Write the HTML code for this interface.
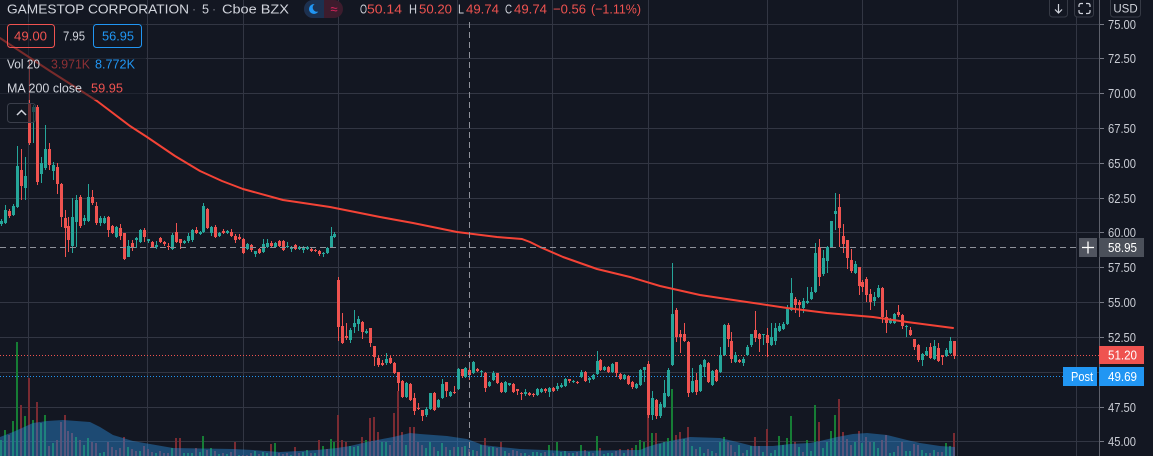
<!DOCTYPE html>
<html><head><meta charset="utf-8">
<style>
html,body{margin:0;padding:0;background:#131722;width:1153px;height:456px;overflow:hidden}
svg{display:block}
text{font-family:"Liberation Sans",Arial,sans-serif}
</style></head>
<body>
<svg id="s" width="1153" height="456" viewBox="0 0 1153 456" xmlns="http://www.w3.org/2000/svg">
<rect width="1153" height="456" fill="#131722"/>
<g stroke="#323643" stroke-width="1" shape-rendering="crispEdges">
<line x1="28.5" y1="0" x2="28.5" y2="456"/>
<line x1="147.5" y1="0" x2="147.5" y2="456"/>
<line x1="243.5" y1="0" x2="243.5" y2="456"/>
<line x1="338.5" y1="0" x2="338.5" y2="456"/>
<line x1="457.5" y1="0" x2="457.5" y2="456"/>
<line x1="552.5" y1="0" x2="552.5" y2="456"/>
<line x1="648.5" y1="0" x2="648.5" y2="456"/>
<line x1="767.5" y1="0" x2="767.5" y2="456"/>
<line x1="862.5" y1="0" x2="862.5" y2="456"/>
<line x1="957.5" y1="0" x2="957.5" y2="456"/>
<line x1="1076.5" y1="0" x2="1076.5" y2="456"/>
<line x1="0" y1="24.5" x2="1099" y2="24.5"/>
<line x1="0" y1="58.5" x2="1099" y2="58.5"/>
<line x1="0" y1="93.5" x2="1099" y2="93.5"/>
<line x1="0" y1="128.5" x2="1099" y2="128.5"/>
<line x1="0" y1="163.5" x2="1099" y2="163.5"/>
<line x1="0" y1="198.5" x2="1099" y2="198.5"/>
<line x1="0" y1="232.5" x2="1099" y2="232.5"/>
<line x1="0" y1="267.5" x2="1099" y2="267.5"/>
<line x1="0" y1="302.5" x2="1099" y2="302.5"/>
<line x1="0" y1="337.5" x2="1099" y2="337.5"/>
<line x1="0" y1="372.5" x2="1099" y2="372.5"/>
<line x1="0" y1="407.5" x2="1099" y2="407.5"/>
<line x1="0" y1="441.5" x2="1099" y2="441.5"/>
</g>
<g id="vol" shape-rendering="crispEdges"></g>
<path fill="rgba(43,138,214,0.45)" d="M0,437 L13,432 L33,423 L47,421 L63,420 L90,422 L100,427 L113,435 L133,441 L150,444 L173,448 L233,449 L253,450 L280,452 L317,450 L337,448 L350,446 L367,442 L393,437 L410,433 L420,434 L447,436 L467,439 L483,445 L500,447 L520,449 L567,451 L640,450 L647,447 L660,443 L680,439 L690,437 L720,438 L733,441 L753,446 L773,446 L790,444 L810,443 L820,441 L837,437 L853,434 L867,433 L887,435 L907,440 L920,443 L940,446 L955,447 L955,456 L0,456 Z"/>
<line x1="0" y1="355.5" x2="1099" y2="355.5" stroke="#ef5350" stroke-width="1" stroke-dasharray="1 2"/>
<line x1="0" y1="376.5" x2="1063" y2="376.5" stroke="#2196f3" stroke-width="1" stroke-dasharray="1 2"/>
<g id="cdl" shape-rendering="crispEdges"></g>
<polyline fill="none" stroke="#f44336" stroke-width="2" stroke-linejoin="round" stroke-linecap="round" points="0,38 50,71 97,101 130,126 147,137 175,156 200,171 222,181 243,189 283,200 310,204 330,207 350,211 380,217 413,223 457,232 497,237 522,239 530,242 540,247 563,257 597,269 630,277 660,286 700,295 740,301 787,308 827,313 873,317 907,322 953,328"/>
<!-- crosshair -->
<line x1="469.5" y1="22" x2="469.5" y2="456" stroke="#8f929b" stroke-width="1" stroke-dasharray="6 4"/>
<line x1="0" y1="247.5" x2="1079" y2="247.5" stroke="#8f929b" stroke-width="1" stroke-dasharray="6 4"/>

<!-- legend translucent background -->
<rect x="0" y="22" width="146" height="78" fill="rgba(19,23,34,0.55)"/>

<!-- header legend -->
<text x="7" y="13.5" font-size="13" fill="#d1d4dc" textLength="182" lengthAdjust="spacingAndGlyphs">GAMESTOP CORPORATION</text>
<text x="194" y="13.5" font-size="13" fill="#787b86" text-anchor="middle">·</text>
<text x="202" y="13.5" font-size="13" fill="#d1d4dc" textLength="7" lengthAdjust="spacingAndGlyphs">5</text>
<text x="214" y="13.5" font-size="13" fill="#787b86" text-anchor="middle">·</text>
<text x="222" y="13.5" font-size="13" fill="#d1d4dc" textLength="67" lengthAdjust="spacingAndGlyphs">Cboe BZX</text>
<rect x="304" y="0" width="39" height="18" rx="9" fill="#3d1c2d"/>
<path d="M324,0 H313 A9 9 0 0 0 313 18 H324 Z" fill="#1c3150"/>
<circle cx="314" cy="9" r="5" fill="#2196f3"/>
<circle cx="317" cy="7.5" r="4.3" fill="#1c3150"/>
<text x="334" y="13.5" font-size="13" fill="#e0245e" text-anchor="middle">≈</text>
<text x="360" y="13.5" font-size="13" fill="#d1d4dc" textLength="7" lengthAdjust="spacingAndGlyphs">O</text>
<text x="367" y="13.5" font-size="13" fill="#ef5350" textLength="35" lengthAdjust="spacingAndGlyphs">50.14</text>
<text x="409" y="13.5" font-size="13" fill="#d1d4dc" textLength="8" lengthAdjust="spacingAndGlyphs">H</text>
<text x="419" y="13.5" font-size="13" fill="#ef5350" textLength="33" lengthAdjust="spacingAndGlyphs">50.20</text>
<text x="458" y="13.5" font-size="13" fill="#d1d4dc" textLength="6" lengthAdjust="spacingAndGlyphs">L</text>
<text x="466" y="13.5" font-size="13" fill="#ef5350" textLength="33" lengthAdjust="spacingAndGlyphs">49.74</text>
<text x="505" y="13.5" font-size="13" fill="#d1d4dc" textLength="7" lengthAdjust="spacingAndGlyphs">C</text>
<text x="514" y="13.5" font-size="13" fill="#ef5350" textLength="33" lengthAdjust="spacingAndGlyphs">49.74</text>
<text x="553" y="13.5" font-size="13" fill="#ef5350" textLength="33" lengthAdjust="spacingAndGlyphs">−0.56</text>
<text x="591" y="13.5" font-size="13" fill="#ef5350" textLength="50" lengthAdjust="spacingAndGlyphs">(−1.11%)</text>

<rect x="7.5" y="24.5" width="47" height="23" rx="3" fill="none" stroke="#ef5350"/>
<text x="14" y="40.5" font-size="12.5" fill="#ef5350" textLength="33" lengthAdjust="spacingAndGlyphs">49.00</text>
<text x="63" y="40.5" font-size="12.5" fill="#d1d4dc" textLength="22" lengthAdjust="spacingAndGlyphs">7.95</text>
<rect x="93.5" y="24.5" width="48" height="23" rx="3" fill="none" stroke="#2196f3"/>
<text x="102" y="40.5" font-size="12.5" fill="#2196f3" textLength="32" lengthAdjust="spacingAndGlyphs">56.95</text>

<text x="7" y="68.5" font-size="12.5" fill="#d1d4dc" textLength="33" lengthAdjust="spacingAndGlyphs">Vol 20</text>
<text x="51" y="68.5" font-size="12.5" fill="#8e3035" textLength="39" lengthAdjust="spacingAndGlyphs">3.971K</text>
<text x="95" y="68.5" font-size="12.5" fill="#2196f3" textLength="40" lengthAdjust="spacingAndGlyphs">8.772K</text>
<text x="7" y="92.5" font-size="12.5" fill="#d1d4dc" textLength="75" lengthAdjust="spacingAndGlyphs">MA 200 close</text>
<text x="91" y="92.5" font-size="12.5" fill="#ef5350" textLength="32" lengthAdjust="spacingAndGlyphs">59.95</text>
<rect x="7.5" y="103.5" width="28" height="19" rx="3" fill="#131722" fill-opacity="0.6" stroke="#3a3e4a"/>
<polyline points="17,115 21.5,110.5 26,115" fill="none" stroke="#d1d4dc" stroke-width="1.5"/>

<!-- right axis -->
<line x1="1099.5" y1="0" x2="1099.5" y2="456" stroke="#5d606b" stroke-width="1" shape-rendering="crispEdges"/>
<g stroke="#787b86" stroke-width="1" shape-rendering="crispEdges">
<line x1="1100" y1="24.5" x2="1104" y2="24.5"/>
<line x1="1100" y1="58.5" x2="1104" y2="58.5"/>
<line x1="1100" y1="93.5" x2="1104" y2="93.5"/>
<line x1="1100" y1="128.5" x2="1104" y2="128.5"/>
<line x1="1100" y1="163.5" x2="1104" y2="163.5"/>
<line x1="1100" y1="198.5" x2="1104" y2="198.5"/>
<line x1="1100" y1="232.5" x2="1104" y2="232.5"/>
<line x1="1100" y1="267.5" x2="1104" y2="267.5"/>
<line x1="1100" y1="302.5" x2="1104" y2="302.5"/>
<line x1="1100" y1="337.5" x2="1104" y2="337.5"/>
<line x1="1100" y1="407.5" x2="1104" y2="407.5"/>
<line x1="1100" y1="441.5" x2="1104" y2="441.5"/>
</g>
<g font-size="12.5" fill="#c9ccd4">
<text x="1108" y="29" textLength="28" lengthAdjust="spacingAndGlyphs">75.00</text>
<text x="1108" y="63" textLength="28" lengthAdjust="spacingAndGlyphs">72.50</text>
<text x="1108" y="98" textLength="28" lengthAdjust="spacingAndGlyphs">70.00</text>
<text x="1108" y="133" textLength="28" lengthAdjust="spacingAndGlyphs">67.50</text>
<text x="1108" y="168" textLength="28" lengthAdjust="spacingAndGlyphs">65.00</text>
<text x="1108" y="203" textLength="28" lengthAdjust="spacingAndGlyphs">62.50</text>
<text x="1108" y="237" textLength="28" lengthAdjust="spacingAndGlyphs">60.00</text>
<text x="1108" y="272" textLength="28" lengthAdjust="spacingAndGlyphs">57.50</text>
<text x="1108" y="307" textLength="28" lengthAdjust="spacingAndGlyphs">55.00</text>
<text x="1108" y="342" textLength="28" lengthAdjust="spacingAndGlyphs">52.50</text>
<text x="1108" y="412" textLength="28" lengthAdjust="spacingAndGlyphs">47.50</text>
<text x="1108" y="446" textLength="28" lengthAdjust="spacingAndGlyphs">45.00</text>
</g>
<!-- crosshair labels -->
<rect x="1079" y="238" width="18" height="19" fill="#50545f"/>
<path d="M1088,241.5 V253.5 M1082,247.5 H1094" stroke="#ffffff" stroke-width="1.3"/>
<rect x="1099" y="238" width="45" height="19" fill="#4b505a"/>
<text x="1108" y="252" font-size="12.5" fill="#ffffff" textLength="29" lengthAdjust="spacingAndGlyphs">58.95</text>
<!-- last price -->
<rect x="1099" y="346" width="45" height="18" fill="#ef5350"/>
<text x="1108" y="359.5" font-size="12.5" fill="#ffffff" textLength="29" lengthAdjust="spacingAndGlyphs">51.20</text>
<rect x="1063" y="367" width="34" height="19" fill="#2196f3"/>
<text x="1071" y="381" font-size="12.5" fill="#ffffff" textLength="22" lengthAdjust="spacingAndGlyphs">Post</text>
<rect x="1099" y="367" width="45" height="19" fill="#2196f3"/>
<text x="1108" y="381" font-size="12.5" fill="#ffffff" textLength="29" lengthAdjust="spacingAndGlyphs">49.69</text>
<!-- top right buttons -->
<rect x="1049.5" y="-4" width="18" height="21" rx="3" fill="#131722" stroke="#363a45"/>
<path d="M1058.5,4 V13 M1055,9.5 L1058.5,13 L1062,9.5" fill="none" stroke="#d1d4dc" stroke-width="1.2"/>
<rect x="1074.5" y="-4" width="19" height="21" rx="3" fill="#131722" stroke="#363a45"/>
<path d="M1079,7 V5.5 Q1079,3.5 1081,3.5 H1083 M1086,3.5 H1088 Q1090,3.5 1090,5.5 V7 M1090,10 V11.5 Q1090,13.5 1088,13.5 H1086 M1083,13.5 H1081 Q1079,13.5 1079,11.5 V10" fill="none" stroke="#d1d4dc" stroke-width="1.2"/>
<rect x="1110.5" y="-4" width="30" height="21" rx="3" fill="#131722" stroke="#363a45"/>
<text x="1125.5" y="12.5" font-size="11.5" fill="#d1d4dc" text-anchor="middle">USD</text>
</svg>
<script>
(function(){
var S=3.97;
function cx(i){return Math.round(1+S*i);}
var C=[
[1,221,224,219,226],[1,210,223,205,224],[0,211,216,209,218],[1,206,215,204,216],[1,166,207,146,208],[0,170,186,149,200],[1,176,188,157,200],[0,103,143,60,145],[1,107,112,105,143],[0,107,182,105,185],
[1,163,174,157,183],[1,149,168,125,170],[0,149,165,143,170],[1,165,171,162,180],[0,167,184,163,194],[0,184,217,183,227],[0,218,228,210,257],[0,226,240,217,252],[1,217,246,198,253],[1,200,222,195,247],
[0,197,226,195,228],[1,218,221,215,225],[1,197,221,184,222],[0,197,203,190,205],[0,206,223,202,225],[1,218,223,216,226],[1,218,223,216,224],[0,217,230,216,237],[0,226,233,225,234],[1,227,237,226,238],
[0,228,236,224,240],[0,233,259,233,260],[1,246,257,240,257],[0,243,247,240,251],[1,238,240,237,248],[1,230,242,229,243],[0,230,237,228,242],[1,239,241,239,243],[0,242,247,241,248],[1,245,247,241,249],
[0,238,242,237,243],[0,242,244,241,246],[0,246,247,243,250],[1,235,249,233,250],[0,232,242,223,243],[0,239,243,239,249],[1,241,243,240,244],[1,236,241,233,243],[1,230,240,229,242],[0,230,233,227,234],
[1,232,234,231,235],[1,206,232,203,233],[0,209,228,208,229],[1,227,233,226,236],[0,227,237,225,238],[1,233,236,232,237],[0,231,233,229,234],[1,231,233,230,234],[0,232,236,229,237],[0,236,240,234,243],
[0,237,239,234,240],[0,239,253,238,254],[1,244,249,243,250],[0,245,250,244,252],[1,251,254,251,257],[0,249,253,248,254],[1,244,252,239,253],[1,243,247,239,248],[0,243,246,241,247],[1,243,247,242,248],
[0,241,246,240,247],[0,241,250,240,251],[1,246,247,242,248],[1,247,249,246,252],[0,245,249,244,250],[1,247,249,246,250],[1,248,250,246,253],[1,247,249,246,250],[0,249,251,248,252],[0,250,251,249,252],
[0,251,254,250,256],[1,253,254,252,257],[1,248,253,247,254],[1,236,247,227,248],[1,234,237,232,238],
[0,280,327,277,341],[0,326,343,313,344],[0,336,338,323,340],[1,330,340,328,343],[1,323,327,310,333],[1,319,324,316,331],[0,322,332,321,339],[1,331,333,329,334],[0,328,343,328,347],[0,346,357,346,366],
[0,358,365,356,367],[0,363,365,360,366],[1,359,363,353,365],[0,358,363,355,364],[0,363,373,362,374],[0,372,383,372,391],[0,381,397,380,398],[1,383,397,382,398],[0,384,400,383,401],[0,398,411,393,415],
[0,408,409,403,410],[0,410,416,410,421],[1,409,415,407,417],[1,393,409,393,410],[0,393,410,392,411],[1,400,407,399,408],[1,384,398,379,399],[0,382,391,382,397],[1,392,396,391,397],[0,392,393,386,394],
[1,369,389,368,390],[0,369,376,369,378],[1,368,377,367,378],[0,370,375,367,380],[1,362,373,361,374],[0,369,371,368,372],[1,371,372,370,377],[0,373,388,372,392],[1,382,386,381,387],[1,373,380,371,381],
[0,373,383,373,384],[0,383,392,382,393],[1,382,392,381,393],[1,383,385,383,386],[0,384,392,383,393],[0,389,391,389,395],[0,393,394,392,400],[1,392,394,389,396],[0,393,395,392,396],[0,394,395,393,397],
[1,389,395,388,396],[1,389,392,388,393],[0,389,391,388,393],[1,388,392,387,397],[0,388,391,387,392],[1,386,389,383,391],[1,385,387,383,388],[1,379,386,378,387],[0,379,381,379,383],[1,381,382,380,383],
[0,382,383,381,384],[1,372,377,370,378],[0,372,381,371,382],[1,378,380,377,383],[1,375,379,374,380],[1,361,374,351,375],[0,360,370,359,371],[1,367,370,366,371],[0,367,372,366,373],[1,364,372,363,373],
[0,362,373,362,377],[0,374,379,373,380],[1,375,379,374,380],[0,376,384,375,385],[0,382,387,381,389],[1,384,388,383,389],[1,370,385,369,386],[1,367,370,367,382],
[0,364,415,361,418],[1,398,415,391,420],[0,400,416,399,419],[1,404,416,402,418],[1,393,407,380,408],[1,370,396,368,397],[1,314,365,263,366],[0,310,337,308,342],[0,334,337,330,353],[0,334,341,323,342],
[0,342,393,341,397],[1,381,392,368,393],[0,380,392,373,395],[1,365,391,364,392],[1,360,367,359,377],[0,363,382,362,383],[1,371,385,370,386],[0,370,381,369,382],[1,355,372,347,373],[1,325,355,324,356],
[0,325,339,323,347],[0,341,359,332,363],[1,355,362,352,363],[0,360,362,359,363],[1,359,363,357,366],[1,347,355,345,356],[1,334,345,334,347],[0,330,338,311,342],[0,334,339,333,352],[1,334,335,334,345],
[0,335,343,328,357],[1,337,345,323,346],[1,328,341,323,345],[1,326,331,323,332],[1,324,329,322,330],[1,308,324,305,325],[1,293,310,278,311],[0,299,305,297,313],[0,302,305,300,317],[1,301,308,298,313],
[1,301,303,287,304],[1,292,299,287,300],[1,253,292,243,293],[0,247,277,239,286],[1,258,274,250,276],[1,247,261,246,273],[1,221,247,221,248],[1,211,214,193,230],[0,207,228,194,247],[0,236,244,224,253],
[0,240,258,240,269],[0,260,271,249,273],[1,264,273,261,274],[0,267,286,267,295],[0,282,287,280,292],[0,279,295,277,302],[0,294,302,289,310],[1,297,301,292,306],[1,288,297,285,298],[0,288,317,287,323],
[0,317,323,310,333],[1,319,323,318,324],[1,314,323,313,324],[0,312,315,305,317],[0,315,326,314,329],[1,326,327,325,337],[0,330,335,327,336],[0,339,347,339,350],[0,345,360,344,362],[1,354,360,353,366],
[1,351,355,347,356],[0,347,358,343,359],[1,346,359,340,360],[0,348,361,343,362],[0,355,357,355,365],[1,350,356,348,357],[1,341,353,337,354],[0,341,356,341,359]
];
var h='';
for(var i=0;i<C.length;i++){
 var d=C[i],x=cx(i),col=d[0]?'#26a69a':'#ef5350';
 var wt=Math.min(d[3],d[1]),wb=Math.max(d[4],d[2]);
 h+='<rect x="'+x+'" y="'+wt+'" width="1" height="'+Math.max(1,wb-wt)+'" fill="'+col+'"/>';
 h+='<rect x="'+(x-1)+'" y="'+d[1]+'" width="3" height="'+Math.max(1,d[2]-d[1])+'" fill="'+col+'"/>';
}
document.getElementById('cdl').innerHTML=h;

var V6=[[3,1,440],[15,1,430],[27,0,435],[38,1,421],[50,1,342],[62,0,405],[74,1,416],[86,0,378],[98,1,420],[110,0,402],[122,1,423],[134,1,415],[146,0,446],[158,1,443],[170,0,440],[182,0,422],[194,0,415],[206,0,431],[218,0,433],[228,1,437],[240,0,440],[252,1,445],[264,1,438],[276,0,442],[288,0,443],[300,1,453],[312,1,452],[324,0,442],[336,0,447],[348,0,450],[360,0,448],[372,0,437],[384,1,447],[396,0,449],[408,0,451],[420,1,451],[432,0,446],[444,0,449],[456,0,452],[468,1,453],[480,0,451],[492,0,453],[504,0,453],[516,1,448],[528,0,438],[540,0,438],[552,1,453],[564,1,453],[576,1,453],[588,0,448],[597,1,452],[609,1,436],[621,0,450],[633,1,448],[645,0,451],[657,1,454],[669,0,453],[681,1,454],[693,0,452],[705,0,442],[717,1,455],[729,0,455],[741,0,455],[753,0,453],[765,1,451],[777,0,454],[789,1,452],[801,1,453],[813,0,444],[825,1,443],[837,0,453],[849,0,454],[861,0,453],[873,1,455],[885,0,447],[897,0,453],[909,1,452],[921,1,450],[933,0,453],[945,1,453],[957,0,440],[969,1,446],[981,0,449],[989,1,439],[1001,1,442],[1013,0,415],[1025,0,440],[1037,0,442],[1049,1,446],[1061,1,447],[1073,1,446],[1085,0,437],[1097,1,440],[1109,0,418],[1121,0,417],[1133,0,432],[1145,1,442],[1157,1,442],[1169,0,445],[1181,0,413],[1193,0,391],[1205,0,432],[1217,1,445],[1229,0,427],[1241,0,427],[1253,0,442],[1265,0,445],[1277,1,448],[1289,1,442],[1301,0,447],[1313,1,451],[1325,1,443],[1337,0,447],[1349,1,450],[1361,0,447],[1373,1,447],[1385,0,447],[1397,1,446],[1409,0,449],[1421,1,450],[1433,0,451],[1445,1,445],[1457,0,438],[1469,1,447],[1481,1,447],[1493,0,448]];
var V8=[[3,0,442],[15,1,451],[27,0,453],[39,0,450],[51,0,451],[63,0,453],[75,1,453],[87,0,455],[99,1,452],[111,1,452],[123,1,453],[135,0,452],[147,1,445],[159,0,453],[171,1,442],[183,1,452],[195,1,451],[207,0,453],[219,1,453],[231,0,452],[239,1,445],[251,0,450],[263,1,452],[275,0,453],[287,1,436],[299,0,448],[311,1,454],[323,1,453],[335,1,453],[347,0,451],[359,0,449],[371,1,453],[383,0,449],[395,0,448],[407,1,445],[419,1,440],[431,1,442],[443,0,412],[455,1,433],[467,0,433],[479,1,444],[491,1,442],[503,1,438],[515,1,389],[527,0,435],[539,0,432],[551,1,439],[563,0,427],[575,1,446],[587,0,449],[597,1,447],[609,1,453],[621,0,449],[633,1,451],[645,0,453],[657,1,442],[669,1,437],[681,0,442],[693,0,445],[705,0,452],[717,1,445],[729,0,453],[741,1,450],[753,1,446],[765,0,437],[777,0,446],[789,1,452],[801,0,429],[813,1,453],[825,1,450],[837,1,436],[849,1,445],[861,1,438],[873,1,416],[885,0,442],[897,1,447],[909,0,452],[921,1,440],[933,1,451],[941,1,405],[953,0,422],[965,1,448],[977,1,442],[989,1,431],[1001,1,415],[1013,0,399],[1025,0,432],[1037,0,439],[1049,0,445],[1061,1,442],[1073,0,431],[1085,1,443],[1097,0,437],[1109,0,442],[1121,1,442],[1133,1,448],[1145,0,440],[1157,0,435],[1169,1,453],[1181,1,452],[1193,0,446],[1205,0,442],[1217,1,451],[1229,1,451],[1241,0,444],[1253,0,445],[1265,1,450],[1277,1,453],[1289,0,453],[1301,1,450],[1313,0,452],[1325,0,452],[1337,1,443],[1349,1,446],[1361,0,433]];
var v='';
function vb(x,c,t){var i=Math.round((x-1)/S);var X=cx(i);
 v+='<rect x="'+(X-1)+'" y="'+t+'" width="2" height="'+(456-t)+'" fill="'+(c?'#167d35':'#7a2b32')+'"/>';}
for(var j=0;j<V6.length;j++){vb(V6[j][0]/3,V6[j][1],V6[j][2]);}
for(var k=0;k<V8.length;k++){vb(500+V8[k][0]/3,V8[k][1],V8[k][2]);}
document.getElementById('vol').innerHTML=v;
})();
</script>
</body></html>
